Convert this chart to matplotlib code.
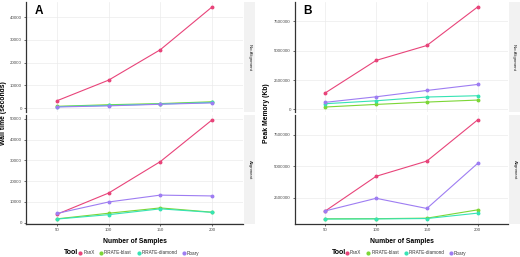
import numpy as np
import matplotlib.pyplot as plt
from matplotlib.lines import Line2D

# data
samples = ['50', '100', '150', '200']
tools = ['PanX', 'PIRATE-blast', 'PIRATE-diamond', 'Roary']
colors = ['#E8447A', '#7CD636', '#36E3B4', '#9E7DF2']

# wall time (seconds)
time_noaln_panx = [3250, 12300, 25650, 44400]
time_noaln_blast = [800, 1500, 2000, 2800]
time_noaln_diamond = [650, 1200, 1800, 2500]
time_noaln_roary = [500, 1000, 1700, 2300]
time_aln_panx = [4100, 14300, 29400, 49400]
time_aln_blast = [1900, 4600, 7150, 5100]
time_aln_diamond = [1800, 3900, 6700, 5000]
time_aln_roary = [4500, 10000, 13300, 12900]

# peak memory (Kb)
mem_noaln_panx = [1410000, 4170000, 5440000, 8720000]
mem_noaln_blast = [200000, 420000, 620000, 790000]
mem_noaln_diamond = [480000, 730000, 1050000, 1160000]
mem_noaln_roary = [600000, 1070000, 1610000, 2120000]
mem_aln_panx = [1440000, 4190000, 5400000, 8670000]
mem_aln_blast = [810000, 820000, 860000, 1520000]
mem_aln_diamond = [790000, 800000, 830000, 1260000]
mem_aln_roary = [1440000, 2440000, 1630000, 5210000]

time_rows = [[time_noaln_panx, time_noaln_blast, time_noaln_diamond, time_noaln_roary],
             [time_aln_panx, time_aln_blast, time_aln_diamond, time_aln_roary]]
mem_rows = [[mem_noaln_panx, mem_noaln_blast, mem_noaln_diamond, mem_noaln_roary],
            [mem_aln_panx, mem_aln_blast, mem_aln_diamond, mem_aln_roary]]
strip_labels = ['No Alignment', 'Alignment']
time_ticks = [[0, 10000, 20000, 30000, 40000], [0, 10000, 20000, 30000, 40000, 50000]]
mem_ticks = [[0, 2500000, 5000000, 7500000], [2500000, 5000000, 7500000]]

W, H = 520, 257
plt.rcParams['font.family'] = ['Liberation Sans', 'DejaVu Sans']
fig = plt.figure(figsize=(W / 100, H / 100), dpi=100)


def box(x0, y0, x1, y1):
    # pixel box (top-left origin) -> figure fraction
    return [x0 / W, 1 - y1 / H, (x1 - x0) / W, (y1 - y0) / H]


def panel(left, right, rows, ticks, ylabel, letter, ylab_x, tool_x, leg_x):
    xs = np.arange(1, len(samples) + 1)
    ybands = [(2, 112), (115, 224)]
    for r, (y0, y1) in enumerate(ybands):
        ax = fig.add_axes(box(left, y0, right, y1))
        for vals, c in zip(rows[r], colors):
            ax.plot(xs, vals, color=c, lw=0.8, marker='o', ms=1.8, zorder=3)
        allv = np.concatenate(rows[r])
        lo, hi = allv.min(), allv.max()
        pad = (hi - lo) * 0.05
        ax.set_ylim(lo - pad, hi + pad)
        ax.set_xlim(0.4, 4.6)
        ax.set_xticks(xs)
        ax.set_yticks(ticks[r])
        ax.set_yticklabels([str(t) for t in ticks[r]])
        ax.grid(True, color='#EBEBEB', lw=0.5)
        ax.set_axisbelow(True)
        for s in ['top', 'right']:
            ax.spines[s].set_visible(False)
        ax.spines['left'].set_color('#333333')
        ax.spines['left'].set_linewidth(0.9)
        ax.tick_params(axis='both', labelsize=3.2, colors='#333333', length=1.5,
                       width=0.5, pad=1.5, labelcolor='#4D4D4D')
        if r == 0:
            ax.spines['bottom'].set_visible(False)
            ax.tick_params(axis='x', length=0, labelbottom=False)
            ax.text(0.04, 0.97, letter, transform=ax.transAxes, fontsize=8.5,
                    fontweight='bold', ha='left', va='top')
        else:
            ax.spines['bottom'].set_color('#333333')
            ax.spines['bottom'].set_linewidth(0.9)
            ax.set_xticklabels(samples)
            ax.set_xlabel('Number of Samples', fontsize=4.9, fontweight='bold', labelpad=4)
        # facet strip
        sax = fig.add_axes(box(right + 1, y0, right + 12, y1))
        sax.set_facecolor('#F2F2F2')
        sax.set_xticks([])
        sax.set_yticks([])
        for s in sax.spines.values():
            s.set_visible(False)
        sax.text(0.5, 0.5, strip_labels[r], rotation=-90, ha='center', va='center',
                 fontsize=3.2, color='#1A1A1A', transform=sax.transAxes)
    fig.text(ylab_x / W, 1 - 113 / H, ylabel, rotation=90,
             ha='center', va='center', fontsize=4.9, fontweight='bold')
    # legend with the title on the left
    fig.text(tool_x / W, 1 - 253 / H, 'Tool', fontsize=5, fontweight='bold',
             ha='left', va='center')
    handles = [Line2D([], [], color=c, marker='o', ms=2.0, lw=0) for c in colors]
    fig.legend(handles, tools, loc='center left', ncol=4, frameon=False,
               bbox_to_anchor=(leg_x / W, 1 - 253 / H), borderpad=0,
               borderaxespad=0, fontsize=3.3, handlelength=0.5,
               handletextpad=0.4, columnspacing=1.2, labelcolor='#333333')


panel(26, 243, time_rows, time_ticks, 'Wall time (seconds)', 'A', 4, 64, 79)
panel(295, 508, mem_rows, mem_ticks, 'Peak Memory (Kb)', 'B', 266, 332, 346)

fig.savefig('out.png', dpi=100)
